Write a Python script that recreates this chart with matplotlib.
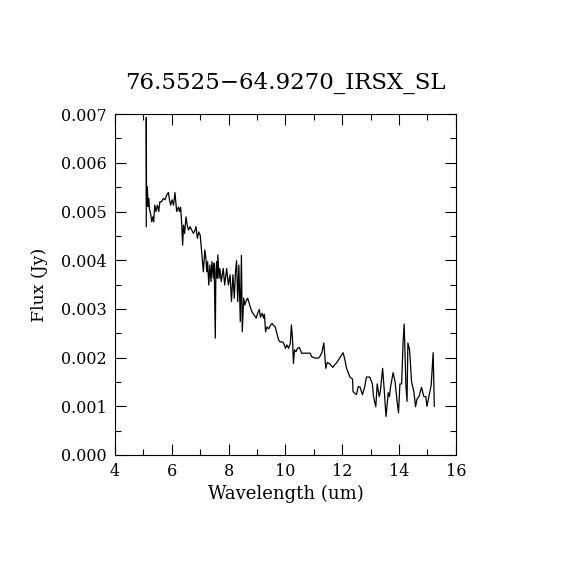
import matplotlib
matplotlib.use("Agg")
import matplotlib.pyplot as plt
from matplotlib.ticker import MultipleLocator

# spectrum (wavelength in um, flux in mJy -> scaled to Jy below)
wave = [5.10, 5.10, 5.11, 5.14, 5.16, 5.19, 5.21, 5.26, 5.29, 5.33, 5.36, 5.40,
        5.44, 5.49, 5.54, 5.58, 5.64, 5.70, 5.76, 5.82, 5.88, 5.92, 5.96, 6.01,
        6.06, 6.11, 6.15, 6.17, 6.23, 6.27, 6.31, 6.35, 6.38, 6.41, 6.45, 6.50,
        6.55, 6.59, 6.64, 6.70, 6.76, 6.82, 6.85, 6.90, 6.95, 7.00, 7.05, 7.11,
        7.16, 7.20, 7.23, 7.26, 7.30, 7.34, 7.38, 7.41, 7.46, 7.49, 7.53, 7.55,
        7.58, 7.60, 7.62, 7.66, 7.69, 7.74, 7.81, 7.86, 7.93, 7.99, 8.05, 8.10,
        8.15, 8.20, 8.24, 8.28, 8.32, 8.36, 8.41, 8.45, 8.48, 8.53, 8.57, 8.62,
        8.67, 8.74, 8.82, 8.90, 8.97, 9.02, 9.08, 9.12, 9.18, 9.23, 9.26, 9.30,
        9.35, 9.41, 9.47, 9.53, 9.58, 9.64, 9.70, 9.76, 9.82, 9.91, 9.96, 10.00,
        10.05, 10.11, 10.17, 10.21, 10.25, 10.28, 10.32, 10.37, 10.42, 10.49, 10.57, 10.69,
        10.87, 10.92, 11.04, 11.16, 11.21, 11.28, 11.35, 11.42, 11.47, 11.56, 11.67, 11.73,
        11.81, 11.92, 12.03, 12.09, 12.15, 12.27, 12.36, 12.38, 12.50, 12.56, 12.62, 12.71,
        12.79, 12.85, 12.97, 13.06, 13.10, 13.18, 13.23, 13.30, 13.34, 13.42, 13.47, 13.54,
        13.62, 13.66, 13.70, 13.79, 13.86, 13.93, 13.98, 14.03, 14.09, 14.14, 14.18, 14.24,
        14.28, 14.31, 14.37, 14.44, 14.52, 14.58, 14.63, 14.70, 14.79, 14.87, 14.94, 14.98,
        15.05, 15.13, 15.20, 15.24]
flux_mjy = [4.69, 6.93, 5.13, 5.51, 5.10, 5.27, 5.06, 4.93, 4.79, 4.89, 4.79, 5.13,
            5.00, 5.13, 5.00, 5.20, 5.20, 5.27, 5.24, 5.34, 5.39, 5.23, 5.13, 5.24,
            5.13, 5.39, 5.13, 5.00, 5.09, 5.00, 5.09, 4.72, 4.31, 4.72, 4.55, 4.89,
            4.69, 4.62, 4.69, 4.62, 4.55, 4.62, 4.69, 4.45, 4.58, 4.51, 4.17, 3.76,
            4.21, 4.04, 3.76, 3.97, 3.49, 3.90, 3.56, 3.97, 3.63, 3.94, 2.40, 3.76,
            3.97, 3.63, 4.11, 3.63, 3.83, 3.56, 3.83, 3.49, 3.83, 3.49, 3.70, 3.15,
            3.70, 3.22, 3.76, 3.99, 3.15, 3.90, 2.74, 4.10, 2.53, 3.22, 3.08, 3.17,
            3.22, 3.08, 2.94, 2.87, 2.81, 2.91, 2.99, 2.83, 2.91, 2.81, 2.89, 2.53,
            2.63, 2.59, 2.66, 2.70, 2.66, 2.63, 2.49, 2.36, 2.32, 2.32, 2.26, 2.19,
            2.26, 2.19, 2.29, 2.67, 2.36, 1.88, 2.16, 2.12, 2.19, 2.21, 2.09, 2.09,
            2.09, 2.02, 1.99, 1.99, 2.02, 2.10, 2.30, 1.78, 1.90, 1.87, 1.80, 1.85,
            1.90, 2.00, 2.10, 1.96, 1.78, 1.60, 1.56, 1.30, 1.24, 1.40, 1.40, 1.24,
            1.40, 1.60, 1.60, 1.46, 1.20, 0.99, 1.46, 1.20, 1.30, 1.78, 1.40, 0.79,
            1.28, 1.20, 1.40, 1.69, 1.50, 1.10, 0.87, 1.46, 1.46, 2.30, 2.69, 1.43,
            1.10, 2.30, 2.16, 1.50, 1.30, 0.99, 1.15, 1.20, 1.39, 1.20, 1.20, 1.00,
            1.20, 1.43, 2.10, 1.00]
flux = [f * 1e-3 for f in flux_mjy]

title = "76.5525\u221264.9270_IRSX_SL"
xlabel = "Wavelength (um)"
ylabel = "Flux (Jy)"

plt.rcParams['font.family'] = ['DejaVu Serif']

fig = plt.figure(figsize=(5.7, 5.7), dpi=100)
ax = fig.add_axes([0.2018, 0.2018, 0.598, 0.598])

ax.plot(wave, flux, color='black', linewidth=0.9)

ax.set_xlim(4, 16)
ax.set_ylim(0, 0.007)
ax.xaxis.set_major_locator(MultipleLocator(2))
ax.xaxis.set_minor_locator(MultipleLocator(1))
ax.yaxis.set_major_locator(MultipleLocator(0.001))
ax.yaxis.set_minor_locator(MultipleLocator(0.0005))
ax.yaxis.set_major_formatter(matplotlib.ticker.FormatStrFormatter('%.3f'))
ax.tick_params(which='both', direction='in', top=True, right=True,
               labelsize=11.5, width=0.8)
ax.tick_params(which='major', length=8, pad=6)
ax.tick_params(which='minor', length=4)
for s in ax.spines.values():
    s.set_linewidth(0.8)

ax.set_title(title, fontsize=16.5, pad=18)
ax.set_xlabel(xlabel, fontsize=13, labelpad=3)
ax.set_ylabel(ylabel, fontsize=12.5, labelpad=9)

fig.savefig("out.png", dpi=100, facecolor='white')
